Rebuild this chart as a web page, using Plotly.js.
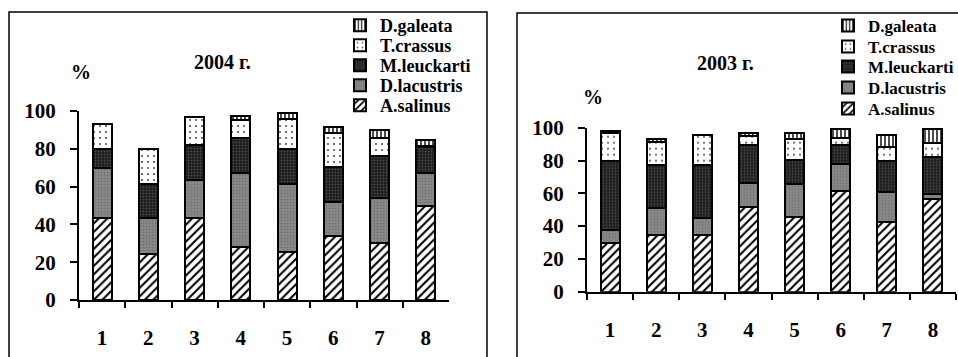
<!DOCTYPE html>
<html>
<head>
<meta charset="utf-8">
<script src="https://cdn.plot.ly/plotly-3.0.1.min.js"></script>
<style>
  html, body { margin: 0; padding: 0; background: #fff; }
  #chart { width: 958px; height: 357px; }
</style>
</head>
<body>
<div id="chart"></div>
<script>
// Sampling stations
const stations = ['1', '2', '3', '4', '5', '6', '7', '8'];

// Species shares, % (2004)
const salinus2004   = [43.5, 24.5, 43.5, 28, 25.5, 34, 30, 49.5];
const lacustris2004 = [26.5, 19, 20, 39, 36, 18, 24, 17.5];
const leuckarti2004 = [10, 18, 18.5, 18.5, 18.5, 18.5, 22, 14];
const crassus2004   = [13, 18.5, 15, 10, 16, 18, 9.5, 0.5];
const galeata2004   = [0, 0, 0, 2, 3, 3, 4.5, 3];

// Species shares, % (2003)
const salinus2003   = [29.5, 34.5, 34.5, 51.5, 45.5, 61.5, 42.5, 56.5];
const lacustris2003 = [8, 16.5, 10.5, 14.5, 20, 16.5, 18.5, 3];
const leuckarti2003 = [42, 26, 32, 23.5, 15, 11.5, 19, 22.5];
const crassus2003   = [17, 14.5, 18.5, 5.5, 12.5, 4.5, 8, 8.5];
const galeata2003   = [1.5, 1.5, 0, 2, 4, 5, 7.5, 8.5];

const speciesNames = ['A.salinus', 'D.lacustris', 'M.leuckarti', 'T.crassus', 'D.galeata'];
const tickValues = [0, 20, 40, 60, 80, 100];

const W = 958, H = 357;
const px = v => v / W;
const py = v => 1 - v / H;

// fill style for each species, bottom of the stack first
const fills = [
  {shape: '/', fgcolor: '#000000', bgcolor: '#ffffff', size: 6, solidity: 0.35},
  {shape: '.', fgcolor: '#727272', bgcolor: '#8c8c8c', size: 3, solidity: 0.4},
  {shape: '.', fgcolor: '#4a4a4a', bgcolor: '#1a1a1a', size: 3, solidity: 0.35},
  {shape: '.', fgcolor: '#555555', bgcolor: '#ffffff', size: 6, solidity: 0.1},
  {shape: '|', fgcolor: '#000000', bgcolor: '#ffffff', size: 4, solidity: 0.35}
];

const font = size => ({family: 'Liberation Serif, Times New Roman, serif', size: size, color: '#000', weight: 'bold'});

// one legend per species row, so the rows can sit close together
function legendId(n) { return n === 1 ? 'legend' : 'legend' + n; }

function makeTraces(series, xa, ya, firstLegend) {
  return series.map((vals, i) => ({
    type: 'bar',
    x: stations,
    y: vals,
    name: speciesNames[i],
    xaxis: xa,
    yaxis: ya,
    legend: legendId(firstLegend + i),
    width: 0.41,
    marker: {
      color: fills[i].bgcolor,
      pattern: Object.assign({fillmode: 'replace'}, fills[i]),
      line: {color: '#000', width: 2}
    },
    hoverinfo: 'skip'
  }));
}

const traces = [].concat(
  makeTraces([salinus2004, lacustris2004, leuckarti2004, crassus2004, galeata2004], 'x', 'y', 1),
  makeTraces([salinus2003, lacustris2003, leuckarti2003, crassus2003, galeata2003], 'x2', 'y2', 6)
);

function xAxis(domain, anchor) {
  return {
    domain: domain, anchor: anchor, type: 'category',
    categoryarray: stations, range: [-0.5, 7.5],
    tickson: 'boundaries', ticks: 'outside', ticklen: 6, tickwidth: 2, tickcolor: '#000',
    showline: true, linewidth: 2, linecolor: '#000',
    showgrid: false, zeroline: false,
    tickfont: font(21), ticklabelstandoff: 18, fixedrange: true
  };
}
function yAxis(domain, anchor) {
  return {
    domain: domain, anchor: anchor, range: [0, 100],
    tickmode: 'array', tickvals: tickValues,
    ticks: 'outside', ticklen: 7, tickwidth: 2, tickcolor: '#000',
    showline: true, linewidth: 2, linecolor: '#000',
    showgrid: false, zeroline: false,
    tickfont: font(21), ticklabelstandoff: 10, fixedrange: true
  };
}

function legendAt(x, y, size) {
  return {
    x: px(x), y: py(y), xanchor: 'left', yanchor: 'top',
    bgcolor: 'rgba(0,0,0,0)', borderwidth: 0,
    font: font(size), itemwidth: 30
  };
}

function note(text, x, y, size) {
  return {
    text: text, xref: 'paper', yref: 'paper', x: px(x), y: py(y),
    xanchor: 'center', yanchor: 'middle', showarrow: false, font: font(size)
  };
}

const layout = {
  width: W, height: H,
  margin: {l: 0, r: 0, t: 0, b: 0, pad: 0, autoexpand: false},
  paper_bgcolor: '#fff', plot_bgcolor: 'rgba(0,0,0,0)',
  font: font(18),
  barmode: 'stack', bargap: 0,
  xaxis: xAxis([px(79), px(449)], 'y'),
  yaxis: yAxis([py(300), py(111)], 'x'),
  xaxis2: xAxis([px(587), px(956)], 'y2'),
  yaxis2: yAxis([py(291.7), py(127.7)], 'x2'),
  annotations: [
    note('2004 г.', 222, 62, 20),
    note('%', 81, 72, 20),
    note('2003 г.', 725, 63, 20),
    note('%', 593, 97, 20)
  ],
  shapes: [
    {type: 'rect', xref: 'paper', yref: 'paper', x0: px(9), x1: px(487), y0: py(12), y1: py(380),
     line: {color: '#000', width: 1.5}, layer: 'below'},
    {type: 'rect', xref: 'paper', yref: 'paper', x0: px(517), x1: px(990), y0: py(13), y1: py(380),
     line: {color: '#000', width: 1.5}, layer: 'below'}
  ],
  showlegend: true
};

// legend rows, listed bottom species first (A.salinus ... D.galeata)
const rows2004 = [87, 67, 47, 27, 7];
const rows2003 = [91, 70, 49, 29, 8];
rows2004.forEach((y, i) => { layout[legendId(1 + i)] = legendAt(340, y, 18); });
rows2003.forEach((y, i) => { layout[legendId(6 + i)] = legendAt(828, y, 17); });

Plotly.newPlot('chart', traces, layout, {staticPlot: true, displayModeBar: false});
</script>
</body>
</html>
